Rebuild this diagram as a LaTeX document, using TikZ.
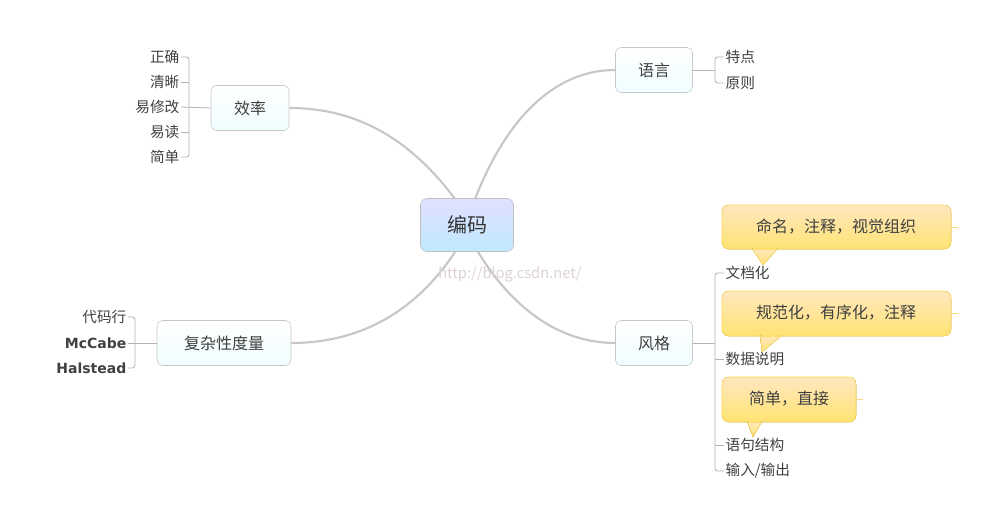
\documentclass[tikz,border=0pt]{standalone}
\usepackage{fontspec}
\setmainfont{Noto Sans CJK SC}
\newfontfamily\boldsans{DejaVu Sans Bold}
\begin{document}
\begin{tikzpicture}[x=0.75pt,y=-0.75pt,
  topic/.style={draw=black!22,rounded corners=4pt,top color=white,bottom color=blue!10!cyan!6,minimum height=33.75pt,font=\fontsize{12}{14}\selectfont,text=black!75},
  item/.style={font=\fontsize{11}{13}\selectfont,text=black!75,inner sep=1pt},
  branch/.style={draw=black!22,line width=1.6pt},
  thin/.style={draw=black!30,line width=0.6pt,rounded corners=2pt},
  callout/.style={draw=yellow!60!orange!70!white,rounded corners=5pt,top color=yellow!25!orange!25!white,bottom color=yellow!60!orange!55!white},
  calltext/.style={font=\fontsize{12}{14}\selectfont,text=black!75}]
\useasboundingbox (0,0) rectangle (1001,529);
% central
\node[draw=black!25,rounded corners=5pt,top color=blue!12!white,bottom color=blue!35!cyan!25!white,minimum width=69.75pt,minimum height=39.75pt,font=\fontsize{15}{17}\selectfont,text=black!80] (root) at (467,225) {编码};
\node[topic,minimum width=57.75pt] (yy) at (654,70) {语言};
\node[topic,minimum width=58.5pt] (xl) at (250,108) {效率};
\node[topic,minimum width=100.5pt] (fz) at (224,343) {复杂性度量};
\node[topic,minimum width=57.75pt] (fg) at (654,343) {风格};
\coordinate (r1) at (475,199); \coordinate (r2) at (455,199);
\coordinate (r3) at (455,252); \coordinate (r4) at (478,252);
\draw[branch] (r1) .. controls (510,110) and (560,70) .. (yy.west);
\draw[branch] (r2) .. controls (400,125) and (340,108) .. (xl.east);
\draw[branch] (r3) .. controls (410,320) and (350,343) .. (fz.east);
\draw[branch] (r4) .. controls (520,320) and (570,343) .. (fg.west);
\node[font=\fontsize{11}{13}\selectfont,text=red!25!black!18] (wm) at (510,274) {http://blog.csdn.net/};
% 语言 children
\node[item,anchor=west] (a1) at (724,57) {特点};
\node[item,anchor=west] (a2) at (724,83) {原则};
\coordinate (ab) at (715,70);
\draw[thin] (yy.east) -- (ab);
\draw[thin] (a1.west) -| (ab) |- (a2.west);
% 效率 children
\node[item,anchor=east] (b1) at (181,57) {正确};
\node[item,anchor=east] (b2) at (181,82) {清晰};
\node[item,anchor=east] (b3) at (181,107) {易修改};
\node[item,anchor=east] (b4) at (181,132) {易读};
\node[item,anchor=east] (b5) at (181,157) {简单};
\coordinate (bb) at (189,107);
\draw[thin] (xl.west) -- (b3.east);
\draw[thin] (b1.east) -| (bb) |- (b5.east);
\draw[thin] (b2.east) -- (bb |- b2.east);
\draw[thin] (b4.east) -- (bb |- b4.east);
% 复杂性 children
\node[item,anchor=east] (c1) at (128,317) {代码行};
\node[item,anchor=east,font=\boldsans\fontsize{10.5}{13}\selectfont] (c2) at (128,343) {McCabe};
\node[item,anchor=east,font=\boldsans\fontsize{10.5}{13}\selectfont] (c3) at (128,368) {Halstead};
\coordinate (cb) at (135,343);
\draw[thin] (fz.west) -- (c2.east);
\draw[thin] (c1.east) -| (cb) |- (c3.east);
% 风格 children
\node[item,anchor=west] (d1) at (724,273) {文档化};
\node[item,anchor=west] (d2) at (724,359) {数据说明};
\node[item,anchor=west] (d3) at (724,445) {语句结构};
\node[item,anchor=west] (d4) at (724,471) {输入/输出};
\coordinate (db) at (715,343);
\draw[thin] (fg.east) -- (db);
\draw[thin] (d1.west) -| (db) |- (d4.west);
\draw[thin] (d2.west) -- (db |- d2.west);
\draw[thin] (d3.west) -- (db |- d3.west);
% callouts
\coordinate (t1) at (763,265); \coordinate (t2) at (762,352); \coordinate (t3) at (753,437);
\filldraw[callout] (722,205) rectangle (951,249);
\filldraw[callout,rounded corners=0pt] (752,248.4) -- (t1) -- (778,248.4);
\fill[yellow!60!orange!55!white] (752.8,247.5) -- (777,247.5) -- (777,249.5) -- (752.8,249.5) -- cycle;
\node[calltext] (e1) at (836,227) {命名，注释，视觉组织};
\filldraw[callout] (722,291) rectangle (951,336);
\filldraw[callout,rounded corners=0pt] (760,335.4) -- (t2) -- (782,335.4);
\fill[yellow!60!orange!55!white] (760.8,334.5) -- (781,334.5) -- (781,336.5) -- (760.8,336.5) -- cycle;
\node[calltext] (e2) at (836,313) {规范化，有序化，注释};
\filldraw[callout] (722,377) rectangle (856,422);
\filldraw[callout,rounded corners=0pt] (747,421.4) -- (t3) -- (762,421.4);
\fill[yellow!60!orange!55!white] (747.8,420.5) -- (761,420.5) -- (761,422.5) -- (747.8,422.5) -- cycle;
\node[calltext] (e3) at (789,399) {简单，直接};
\coordinate (s1) at (958,227); \coordinate (s2) at (958,313); \coordinate (s3) at (863,399);
\draw[thin,draw=yellow!50!orange!50!white] (951,227) -- (s1);
\draw[thin,draw=yellow!50!orange!50!white] (951,313) -- (s2);
\draw[thin,draw=yellow!50!orange!50!white] (856,399) -- (s3);
\end{tikzpicture}
\end{document}
